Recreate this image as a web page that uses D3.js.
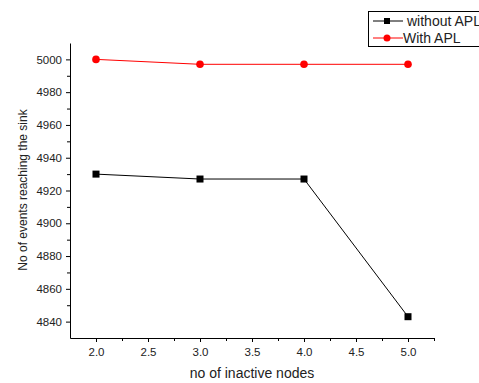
<!DOCTYPE html>
<meta charset="utf-8">
<script src="https://d3js.org/d3.v7.min.js"></script>
<style>
  body { margin: 0; background: #fff; }
  text { font-family: Arial, "Liberation Sans", sans-serif; fill: #222; }
</style>
<div id="chart"></div>
<script>

// data
var nodes = [2, 3, 4, 5];
var withoutAPL = [4930, 4927, 4927, 4843];
var withAPL = [5000, 4997, 4997, 4997];
var xTicks = [2.0, 2.5, 3.0, 3.5, 4.0, 4.5, 5.0];
var yTicks = [4840, 4860, 4880, 4900, 4920, 4940, 4960, 4980, 5000];

var W = 479, H = 383;
var margin = {top: 43, right: 45, bottom: 45, left: 70},
    width = W - margin.left - margin.right,
    height = H - margin.top - margin.bottom;

var svg = d3.select("#chart")
  .append("svg")
    .attr("width", W)
    .attr("height", H);

var g = svg.append("g")
    .attr("transform", "translate(" + margin.left + "," + margin.top + ")");

var x = d3.scaleLinear().domain([1.75, 5.25]).range([0, width]);
var y = d3.scaleLinear().domain([4830, 5010]).range([height, 0]);

// minor ticks
g.append("g")
  .attr("transform", "translate(0," + height + ")")
  .call(d3.axisBottom(x).tickValues(d3.range(2.25, 5.26, 0.5)).tickSize(3).tickFormat(""))
  .call(function(a) { a.select(".domain").remove(); });
g.append("g")
  .call(d3.axisLeft(y).tickValues(d3.range(4850, 5010, 20)).tickSize(3).tickFormat(""))
  .call(function(a) { a.select(".domain").remove(); });

// X axis
var xAxis = g.append("g")
  .attr("transform", "translate(0," + height + ")")
  .call(d3.axisBottom(x).tickValues(xTicks).tickSize(4).tickSizeOuter(0).tickFormat(d3.format(".1f")));
xAxis.selectAll("text").attr("font-size", 11.5).attr("dy", "0.95em");

// Y axis
var yAxis = g.append("g")
  .call(d3.axisLeft(y).tickValues(yTicks).tickSize(4).tickSizeOuter(0).tickFormat(d3.format("d")));
yAxis.selectAll("text").attr("font-size", 11.5).attr("dx", "-1");

g.selectAll(".domain, .tick line").attr("stroke", "#000");

// axis titles
svg.append("text")
  .attr("x", 252).attr("y", 378)
  .attr("text-anchor", "middle")
  .attr("font-size", 14)
  .text("no of inactive nodes");

svg.append("text")
  .attr("transform", "translate(27,190) rotate(-90)")
  .attr("text-anchor", "middle")
  .attr("font-size", 12)
  .text("No of events reaching the sink");

var line = d3.line()
  .x(function(d, i) { return x(nodes[i]); })
  .y(function(d) { return y(d); });

// without APL (black squares)
g.append("path").datum(withoutAPL)
  .attr("fill", "none").attr("stroke", "#000").attr("stroke-width", 1)
  .attr("d", line);
g.selectAll(".sq").data(withoutAPL).enter().append("rect")
  .attr("x", function(d, i) { return x(nodes[i]) - 3.5; })
  .attr("y", function(d) { return y(d) - 3.5; })
  .attr("width", 7).attr("height", 7)
  .attr("fill", "#000");

// with APL (red circles)
g.append("path").datum(withAPL)
  .attr("fill", "none").attr("stroke", "#ff0000").attr("stroke-width", 1)
  .attr("d", line);
g.selectAll(".ci").data(withAPL).enter().append("circle")
  .attr("cx", function(d, i) { return x(nodes[i]); })
  .attr("cy", function(d) { return y(d); })
  .attr("r", 3.8)
  .attr("fill", "#ff0000");

// legend
var leg = svg.append("g");
leg.append("rect")
  .attr("x", 368.5).attr("y", 11.5).attr("width", 120).attr("height", 35)
  .attr("fill", "#fff").attr("stroke", "#000");
leg.append("line").attr("x1", 373).attr("x2", 403).attr("y1", 21).attr("y2", 21).attr("stroke", "#000");
leg.append("rect").attr("x", 384).attr("y", 18).attr("width", 6).attr("height", 6).attr("fill", "#000");
leg.append("text").attr("x", 407).attr("y", 26).attr("font-size", 14).text("without APL");
leg.append("line").attr("x1", 373).attr("x2", 403).attr("y1", 38).attr("y2", 38).attr("stroke", "#ff0000");
leg.append("circle").attr("cx", 387).attr("cy", 38).attr("r", 3.5).attr("fill", "#ff0000");
leg.append("text").attr("x", 403).attr("y", 43).attr("font-size", 14).text("With APL");

</script>
